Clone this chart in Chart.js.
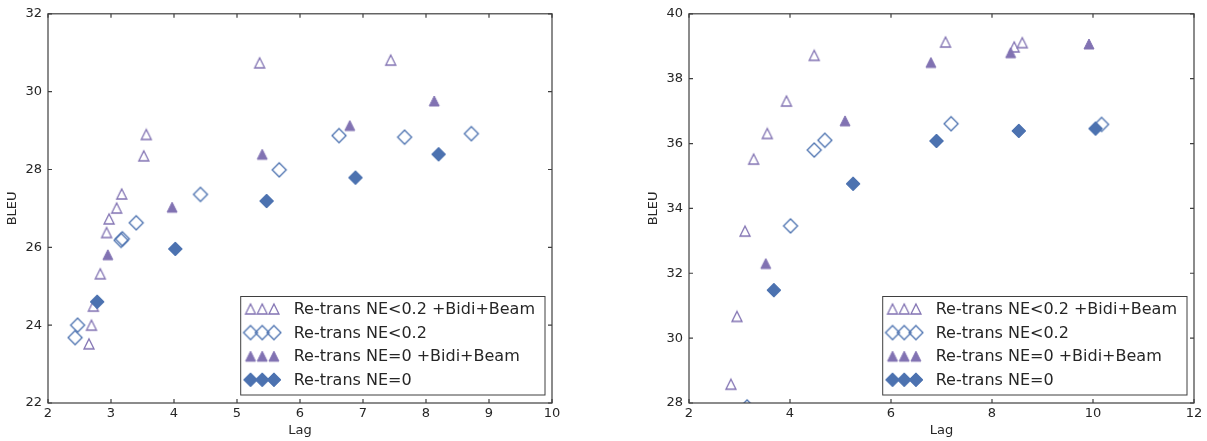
<!DOCTYPE html>
<html>
<head>
<meta charset="utf-8">
<title>BLEU vs Lag</title>
<script src="https://cdn.jsdelivr.net/npm/chart.js@4.4.1/dist/chart.umd.min.js"></script>
<style>
    body { margin: 0; background: #fff; }
    canvas { position: absolute; top: 0; }
    #leftChart { left: 0; }
    #rightChart { left: 604px; }
</style>
</head>
<body>
<canvas id="leftChart" width="604" height="441"></canvas>
<canvas id="rightChart" width="603" height="441"></canvas>
<script>
// Series names, shared by both panels
const seriesNames = [
    'Re-trans NE<0.2 +Bidi+Beam',
    'Re-trans NE<0.2',
    'Re-trans NE=0 +Bidi+Beam',
    'Re-trans NE=0'
];

// Left panel: [lag, BLEU]
const leftNE02Beam = [[5.36, 30.74], [7.44, 30.81], [3.56, 28.90], [3.52, 28.35], [3.17, 27.37], [3.09, 27.01],
    [2.97, 26.73], [2.93, 26.38], [2.83, 25.32], [2.72, 24.49], [2.69, 24.00], [2.65, 23.52]];
const leftNE02 = [[6.62, 28.87], [7.66, 28.83], [8.72, 28.92], [5.67, 27.99], [4.42, 27.36], [3.40, 26.63],
    [3.18, 26.22], [3.16, 26.18], [2.47, 24.00], [2.43, 23.68]];
const leftNE0Beam = [[8.13, 29.76], [6.79, 29.13], [5.40, 28.39], [3.97, 27.03], [2.95, 25.81]];
const leftNE0 = [[8.20, 28.39], [6.88, 27.79], [5.47, 27.19], [4.02, 25.96], [2.78, 24.60]];

// Right panel: [lag, BLEU]
const rightNE02Beam = [[4.48, 38.72], [7.08, 39.13], [8.44, 38.98], [8.60, 39.11], [3.93, 37.31], [3.55, 36.31],
    [3.28, 35.52], [3.11, 33.30], [2.95, 30.67], [2.83, 28.58]];
const rightNE02 = [[4.48, 35.80], [4.69, 36.10], [7.19, 36.61], [10.17, 36.59], [4.01, 33.46], [3.15, 27.88]];
const rightNE0Beam = [[6.79, 38.50], [8.37, 38.80], [9.92, 39.07], [5.09, 36.70], [3.52, 32.30]];
const rightNE0 = [[6.90, 36.08], [8.53, 36.39], [10.05, 36.46], [5.25, 34.76], [3.68, 31.48]];

// Axis ranges and tick steps
const leftX = { min: 2, max: 10, step: 1 };
const leftY = { min: 22, max: 32, step: 2 };
const rightX = { min: 2, max: 12, step: 2 };
const rightY = { min: 28, max: 40, step: 2 };

const purple = '#8172B2';
const blue = '#4C72B0';
const inkColor = '#262626';
const spineColor = '#3f3f3f';
const fontFamily = '"DejaVu Sans", Verdana, sans-serif';

// Marker sprites, so that triangles and diamonds sit centred on their value
const makeMarker = (shape, filled, color, size) => {
    const c = document.createElement('canvas');
    c.width = c.height = size + 4;
    const g = c.getContext('2d');
    const m = c.width / 2, h = size / 2;
    g.beginPath();
    if (shape === 'triangle') {
        g.moveTo(m, m - h);
        g.lineTo(m + h, m + h);
        g.lineTo(m - h, m + h);
    } else {
        g.moveTo(m, m - h);
        g.lineTo(m + h, m);
        g.lineTo(m, m + h);
        g.lineTo(m - h, m);
    }
    g.closePath();
    g.strokeStyle = color;
    g.lineWidth = filled ? 1 : 1.3;
    if (filled) {
        g.fillStyle = color;
        g.fill();
    }
    g.stroke();
    return c;
};

const markers = [
    makeMarker('triangle', false, purple, 10),
    makeMarker('diamond', false, blue, 14),
    makeMarker('triangle', true, purple, 10),
    makeMarker('diamond', true, blue, 14)
];

// Box, inward ticks on all sides and the boxed legend in the lower right
const frameAndLegend = {
    id: 'frameAndLegend',
    afterDatasetsDraw(chart) {
        const { ctx, chartArea: a, scales: { x, y } } = chart;
        ctx.save();
        ctx.strokeStyle = spineColor;
        ctx.lineWidth = 1.2;
        ctx.beginPath();
        x.ticks.forEach(t => {
            const px = x.getPixelForValue(t.value);
            ctx.moveTo(px, a.bottom); ctx.lineTo(px, a.bottom - 4);
            ctx.moveTo(px, a.top); ctx.lineTo(px, a.top + 4);
        });
        y.ticks.forEach(t => {
            const py = y.getPixelForValue(t.value);
            ctx.moveTo(a.left, py); ctx.lineTo(a.left + 4, py);
            ctx.moveTo(a.right, py); ctx.lineTo(a.right - 4, py);
        });
        ctx.stroke();
        ctx.strokeRect(a.left, a.top, a.right - a.left, a.bottom - a.top);

        // legend
        ctx.font = '16px ' + fontFamily;
        const textStart = 53;
        const rowGap = 23.6;
        const widest = Math.max(...chart.data.datasets.map(ds => ctx.measureText(ds.label).width));
        const w = textStart + widest + 10;
        const h = 98.5;
        const bx = a.right - 7 - w;
        const by = a.bottom - 8 - h;
        ctx.fillStyle = '#fff';
        ctx.fillRect(bx, by, w, h);
        ctx.lineWidth = 1;
        ctx.strokeStyle = spineColor;
        ctx.strokeRect(bx, by, w, h);
        chart.data.datasets.forEach((ds, i) => {
            const ry = by + 12.5 + i * rowGap;
            const img = markers[i];
            [9.8, 21.5, 33.2].forEach(off => {
                ctx.drawImage(img, bx + off - img.width / 2, ry - img.height / 2);
            });
            ctx.fillStyle = inkColor;
            ctx.textAlign = 'left';
            ctx.textBaseline = 'middle';
            ctx.fillText(ds.label, bx + textStart, ry + 1);
        });
        ctx.restore();
    }
};

const toPoints = pairs => pairs.map(([x, y]) => ({ x, y }));

const buildChart = (id, series, xr, yr, yAxisWidth, rightPad, yTitlePad) => {
    const datasets = series.map((pairs, i) => ({
        label: seriesNames[i],
        data: toPoints(pairs),
        pointStyle: markers[i],
        pointRadius: 7,
        pointHoverRadius: 7,
        order: series.length - i,
        clip: 0
    }));

    return new Chart(document.getElementById(id), {
        type: 'scatter',
        data: { datasets },
        options: {
            responsive: false,
            animation: false,
            layout: { padding: { top: 12, right: rightPad, left: 0, bottom: 0 } },
            plugins: {
                legend: { display: false },
                tooltip: { enabled: false }
            },
            scales: {
                x: {
                    min: xr.min,
                    max: xr.max,
                    grid: { display: false, drawTicks: false },
                    border: { display: false },
                    ticks: {
                        stepSize: xr.step,
                        padding: 3,
                        color: inkColor,
                        font: { family: fontFamily, size: 13 }
                    },
                    title: {
                        display: true,
                        text: 'Lag',
                        color: inkColor,
                        font: { family: fontFamily, size: 13 },
                        padding: { top: 0, bottom: 3 }
                    },
                    afterFit: s => { s.height = 38; }
                },
                y: {
                    min: yr.min,
                    max: yr.max,
                    grid: { display: false, drawTicks: false },
                    border: { display: false },
                    ticks: {
                        stepSize: yr.step,
                        padding: 6,
                        color: inkColor,
                        font: { family: fontFamily, size: 13 }
                    },
                    title: {
                        display: true,
                        text: 'BLEU',
                        color: inkColor,
                        font: { family: fontFamily, size: 13 },
                        padding: { top: yTitlePad, bottom: 0 }
                    },
                    afterFit: s => { s.width = yAxisWidth; }
                }
            }
        },
        plugins: [frameAndLegend]
    });
};

buildChart('leftChart', [leftNE02Beam, leftNE02, leftNE0Beam, leftNE0], leftX, leftY, 48, 52, 5);
buildChart('rightChart', [rightNE02Beam, rightNE02, rightNE0Beam, rightNE0], rightX, rightY, 85, 13, 42);
</script>
</body>
</html>
